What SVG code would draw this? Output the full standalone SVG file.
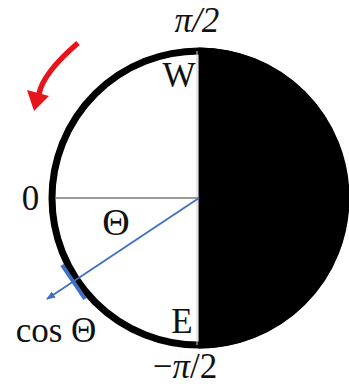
<svg xmlns="http://www.w3.org/2000/svg" width="349" height="389" viewBox="0 0 349 389">
<style>
text{font-family:"Liberation Serif","DejaVu Serif",serif;fill:#111;font-size:35px}
.it{font-style:italic}
.blue{stroke:#3f6fc0;fill:none}
</style>
<defs>
<marker id="ba" viewBox="0 0 10 10" refX="9" refY="5" markerWidth="5" markerHeight="5" orient="auto">
<path d="M0,1 L10,5 L0,9 z" fill="#3f6fc0"/>
</marker>
</defs>
<rect width="349" height="389" fill="#fff"/>
<g id="disk">
<path d="M198.5 47.5 A150.5 150.5 0 0 1 198.5 348.5 Z" fill="#000"/>
<circle cx="199" cy="198" r="147" fill="none" stroke="#000" stroke-width="7"/>
<line x1="197" y1="51" x2="197" y2="345" stroke="#ccc" stroke-width="1"/>
</g>
<g id="connectors">
<line x1="56" y1="198" x2="199" y2="198" stroke="#777" stroke-width="1.6"/>
<line class="blue" x1="199" y1="198" x2="47" y2="299" stroke-width="1.8" marker-end="url(#ba)"/>
<line class="blue" x1="62" y1="265" x2="85" y2="299" stroke-width="4" stroke="#4a78c8"/>
</g>
<g id="rotation">
<path d="M78 43 Q43 73 39 94" fill="none" stroke="#e8141c" stroke-width="5.5"/>
<polygon points="27,90 49,96 34,111" fill="#e8141c"/>
</g>
<g id="labels">
<text class="it" x="197" y="32" text-anchor="middle">π/2</text>
<text x="185" y="378" text-anchor="middle"><tspan>−</tspan><tspan class="it">π</tspan>/2</text>
<text x="30.5" y="210" text-anchor="middle">0</text>
<text x="179" y="87" text-anchor="middle">W</text>
<text x="182" y="333" text-anchor="middle">E</text>
<text x="116" y="235" text-anchor="middle" style="font-size:38px">Θ</text>
<text x="56" y="342" text-anchor="middle">cos Θ</text>
</g>
</svg>
